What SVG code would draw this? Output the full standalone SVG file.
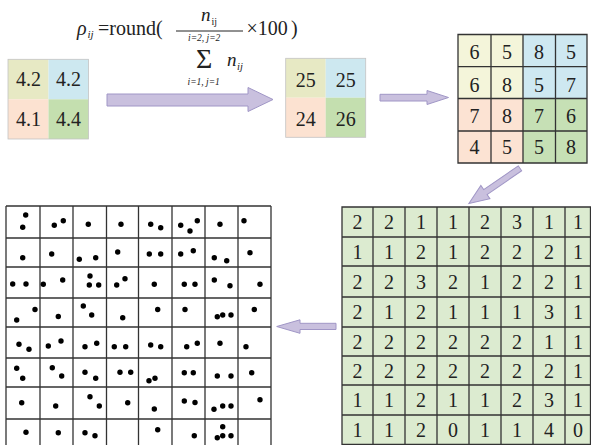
<svg xmlns="http://www.w3.org/2000/svg" width="591" height="445" viewBox="0 0 591 445">
<style>
text{font-family:"Liberation Serif","Times New Roman",serif;fill:#222;}
.n text{font-size:20px;text-anchor:middle;}
.f{font-size:20px;}
.it{font-style:italic;}
.g{stroke:#333;stroke-width:1.3;fill:none;}
.soft{stroke:#c4c4c4;stroke-width:0.8;fill:none;}
.arr{fill:#c9c0de;stroke:#a096c6;stroke-width:1;}
.dot{fill:#000;}
</style>

<g id="formula">
  <text class="f it" x="77" y="35">ρ</text>
  <text class="it" x="87.5" y="38" font-size="11">ij</text>
  <text class="f" x="98" y="35">=round(</text>
  <text class="it" x="201" y="20.5" font-size="19">n</text>
  <text x="211.5" y="25" font-size="10">ij</text>
  <line x1="176" y1="31" x2="243" y2="31" stroke="#222" stroke-width="1"/>
  <text class="it" x="188" y="40.5" font-size="9.5">i=2, j=2</text>
  <text x="196" y="68" font-size="28">Σ</text>
  <text class="it" x="227" y="65.5" font-size="19">n</text>
  <text class="it" x="237" y="70" font-size="10.5">ij</text>
  <text class="it" x="187.5" y="85" font-size="9.5">i=1, j=1</text>
  <text class="f" x="246.5" y="35">×100</text>
  <text class="f" x="291" y="35">)</text>
</g>

<g id="grid-a">
  <rect x="8" y="59.3" width="40.5" height="40" fill="#e7e9c4"/>
  <rect x="48.5" y="59.3" width="40" height="40" fill="#cde8f0"/>
  <rect x="8" y="99.3" width="40.5" height="39.7" fill="#fce2d1"/>
  <rect x="48.5" y="99.3" width="40" height="39.7" fill="#c4dfaf"/>
  <rect class="soft" x="8" y="59.3" width="80.5" height="79.7"/>
  <g class="n">
    <text x="28.5" y="86">4.2</text><text x="68.5" y="86">4.2</text>
    <text x="28.5" y="126">4.1</text><text x="68.5" y="126">4.4</text>
  </g>
</g>

<g id="grid-b">
  <rect x="285.7" y="58.3" width="40" height="39.4" fill="#e7e9c4"/>
  <rect x="325.7" y="58.3" width="40" height="39.4" fill="#cde8f0"/>
  <rect x="285.7" y="97.7" width="40" height="39.6" fill="#fce2d1"/>
  <rect x="325.7" y="97.7" width="40" height="39.6" fill="#c4dfaf"/>
  <rect class="soft" x="285.7" y="58.3" width="80" height="79"/>
  <g class="n">
    <text x="305.7" y="86.5">25</text><text x="345.7" y="86.5">25</text>
    <text x="305.7" y="126">24</text><text x="345.7" y="126">26</text>
  </g>
</g>

<g id="grid-c">
  <rect x="458" y="34.5" width="65" height="64" fill="#f4f5da"/>
  <rect x="523" y="34.5" width="64" height="64" fill="#cee8f1"/>
  <rect x="458" y="98.5" width="65" height="64.5" fill="#fce3d3"/>
  <rect x="523" y="98.5" width="64" height="64.5" fill="#c6e0b5"/>
  <path class="g" d="M458 34.5H587V163H458Z M491 34.5V163 M523 34.5V163 M555.5 34.5V163 M458 66.7H587 M458 98.5H587 M458 131H587"/>
  <g class="n">
    <text x="474.5" y="59.3">6</text><text x="507" y="59.3">5</text><text x="539" y="59.3">8</text><text x="571" y="59.3">5</text>
    <text x="474.5" y="91.5">6</text><text x="507" y="91.5">8</text><text x="539" y="91.5">5</text><text x="571" y="91.5">7</text>
    <text x="474.5" y="123.3">7</text><text x="507" y="123.3">8</text><text x="539" y="123.3">7</text><text x="571" y="123.3">6</text>
    <text x="474.5" y="154">4</text><text x="507" y="154">5</text><text x="539" y="154">5</text><text x="571" y="154">8</text>
  </g>
</g>

<g id="grid-d">
  <rect x="342" y="207" width="248.5" height="237.5" fill="#dcebd0"/>
  <path class="g" d="M342 207H590.5V444.5H342Z M373 207V444.5 M405 207V444.5 M437 207V444.5 M469 207V444.5 M501 207V444.5 M533 207V444.5 M565 207V444.5 M342 237H590.5 M342 266H590.5 M342 297H590.5 M342 327H590.5 M342 356H590.5 M342 385H590.5 M342 415H590.5"/>
  <g class="n">
    <text x="357.5" y="229.3">2</text><text x="389" y="229.3">2</text><text x="421" y="229.3">1</text><text x="453" y="229.3">1</text><text x="485" y="229.3">2</text><text x="517" y="229.3">3</text><text x="549" y="229.3">1</text><text x="578" y="229.3">1</text>
    <text x="357.5" y="259">1</text><text x="389" y="259">1</text><text x="421" y="259">2</text><text x="453" y="259">1</text><text x="485" y="259">2</text><text x="517" y="259">2</text><text x="549" y="259">2</text><text x="578" y="259">1</text>
    <text x="357.5" y="288.5">2</text><text x="389" y="288.5">2</text><text x="421" y="288.5">3</text><text x="453" y="288.5">2</text><text x="485" y="288.5">1</text><text x="517" y="288.5">2</text><text x="549" y="288.5">2</text><text x="578" y="288.5">1</text>
    <text x="357.5" y="319">2</text><text x="389" y="319">1</text><text x="421" y="319">2</text><text x="453" y="319">1</text><text x="485" y="319">1</text><text x="517" y="319">1</text><text x="549" y="319">3</text><text x="578" y="319">1</text>
    <text x="357.5" y="348.5">2</text><text x="389" y="348.5">2</text><text x="421" y="348.5">2</text><text x="453" y="348.5">2</text><text x="485" y="348.5">2</text><text x="517" y="348.5">2</text><text x="549" y="348.5">1</text><text x="578" y="348.5">1</text>
    <text x="357.5" y="378">2</text><text x="389" y="378">2</text><text x="421" y="378">2</text><text x="453" y="378">2</text><text x="485" y="378">2</text><text x="517" y="378">2</text><text x="549" y="378">2</text><text x="578" y="378">1</text>
    <text x="357.5" y="407">1</text><text x="389" y="407">1</text><text x="421" y="407">2</text><text x="453" y="407">1</text><text x="485" y="407">1</text><text x="517" y="407">2</text><text x="549" y="407">3</text><text x="578" y="407">1</text>
    <text x="357.5" y="436.5">1</text><text x="389" y="436.5">1</text><text x="421" y="436.5">2</text><text x="453" y="436.5">0</text><text x="485" y="436.5">1</text><text x="517" y="436.5">1</text><text x="549" y="436.5">4</text><text x="578" y="436.5">0</text>
  </g>
</g>

<g id="grid-e">
  <path class="g" d="M6 206H271 M6 238H271 M6 267H271 M6 298H271 M6 327H271 M6 358H271 M6 387H271 M6 419H271 M6 206V446 M40 206V446 M73 206V446 M106.5 206V446 M138.5 206V446 M172 206V446 M205 206V446 M238 206V446 M271 206V446"/>
  <g class="dot">
    <circle cx="25.7" cy="215" r="2.7"/><circle cx="22.7" cy="227.3" r="2.7"/>
    <circle cx="63.3" cy="220.7" r="2.7"/><circle cx="54.3" cy="225.3" r="2.7"/>
    <circle cx="88.3" cy="224.3" r="2.7"/>
    <circle cx="121" cy="224.3" r="2.7"/>
    <circle cx="150.7" cy="224.3" r="2.7"/><circle cx="160.7" cy="227.7" r="2.7"/>
    <circle cx="180.7" cy="225.3" r="2.7"/><circle cx="190" cy="231" r="2.7"/><circle cx="197.3" cy="220.7" r="2.7"/>
    <circle cx="220" cy="224.3" r="2.7"/>
    <circle cx="244" cy="220.7" r="2.7"/>

    <circle cx="22.7" cy="257.7" r="2.7"/>
    <circle cx="51.7" cy="254" r="2.7"/>
    <circle cx="79.3" cy="259.3" r="2.7"/><circle cx="95.7" cy="257.7" r="2.7"/>
    <circle cx="117.7" cy="252" r="2.7"/>
    <circle cx="149.3" cy="254" r="2.7"/><circle cx="160.7" cy="254" r="2.7"/>
    <circle cx="180.7" cy="254" r="2.7"/><circle cx="193.3" cy="250.7" r="2.7"/>
    <circle cx="214.3" cy="257.7" r="2.7"/><circle cx="226.7" cy="260.7" r="2.7"/>
    <circle cx="250" cy="252.7" r="2.7"/>

    <circle cx="12.7" cy="284" r="2.7"/><circle cx="26" cy="284" r="2.7"/>
    <circle cx="43.3" cy="284.3" r="2.7"/><circle cx="62.7" cy="280" r="2.7"/>
    <circle cx="90" cy="276" r="2.7"/><circle cx="89.3" cy="285" r="2.7"/><circle cx="98.7" cy="285" r="2.7"/>
    <circle cx="116.7" cy="285" r="2.7"/><circle cx="125" cy="278.7" r="2.7"/>
    <circle cx="154.3" cy="284.3" r="2.7"/>
    <circle cx="184.3" cy="284.3" r="2.7"/><circle cx="195" cy="284.3" r="2.7"/>
    <circle cx="214.3" cy="280" r="2.7"/><circle cx="230" cy="285.7" r="2.7"/>
    <circle cx="260" cy="284.3" r="2.7"/>

    <circle cx="35" cy="309.5" r="2.7"/><circle cx="16.7" cy="320" r="2.7"/>
    <circle cx="58.3" cy="316.5" r="2.7"/>
    <circle cx="83.3" cy="306" r="2.7"/><circle cx="91.7" cy="315" r="2.7"/>
    <circle cx="122.7" cy="317.7" r="2.7"/>
    <circle cx="157.7" cy="309.5" r="2.7"/>
    <circle cx="185" cy="309.5" r="2.7"/>
    <circle cx="217.3" cy="316.7" r="2.7"/><circle cx="222.7" cy="315" r="2.7"/><circle cx="231" cy="315" r="2.7"/>
    <circle cx="254.3" cy="309.5" r="2.7"/>

    <circle cx="19" cy="344.3" r="2.7"/><circle cx="29" cy="349.3" r="2.7"/>
    <circle cx="48.3" cy="346" r="2.7"/><circle cx="61" cy="341" r="2.7"/>
    <circle cx="85" cy="346.7" r="2.7"/><circle cx="96.7" cy="343.3" r="2.7"/>
    <circle cx="114.3" cy="346.7" r="2.7"/><circle cx="125.7" cy="346.7" r="2.7"/>
    <circle cx="150.7" cy="345" r="2.7"/><circle cx="160.7" cy="346.7" r="2.7"/>
    <circle cx="186.7" cy="346.7" r="2.7"/><circle cx="197.3" cy="343.3" r="2.7"/>
    <circle cx="220" cy="343.3" r="2.7"/>
    <circle cx="246" cy="346.7" r="2.7"/>

    <circle cx="16.7" cy="368.3" r="2.7"/><circle cx="22.7" cy="378.3" r="2.7"/>
    <circle cx="52.3" cy="367.7" r="2.7"/><circle cx="61.7" cy="376" r="2.7"/>
    <circle cx="85" cy="372.3" r="2.7"/><circle cx="95.7" cy="378.3" r="2.7"/>
    <circle cx="120" cy="372.3" r="2.7"/><circle cx="130.7" cy="372.3" r="2.7"/>
    <circle cx="149" cy="380.7" r="2.7"/><circle cx="155" cy="378.3" r="2.7"/>
    <circle cx="184.3" cy="372.7" r="2.7"/><circle cx="193.3" cy="372.7" r="2.7"/>
    <circle cx="217.3" cy="376" r="2.7"/><circle cx="231" cy="376" r="2.7"/>
    <circle cx="251.7" cy="372.7" r="2.7"/>

    <circle cx="21.7" cy="402.7" r="2.7"/>
    <circle cx="55.7" cy="406" r="2.7"/>
    <circle cx="90" cy="396.7" r="2.7"/><circle cx="99.3" cy="406" r="2.7"/>
    <circle cx="127.7" cy="402.7" r="2.7"/>
    <circle cx="154.3" cy="409" r="2.7"/>
    <circle cx="184.3" cy="401" r="2.7"/><circle cx="195" cy="402.5" r="2.7"/>
    <circle cx="214" cy="409.3" r="2.7"/><circle cx="222.7" cy="406" r="2.7"/><circle cx="231" cy="406" r="2.7"/>
    <circle cx="260" cy="399.7" r="2.7"/>

    <circle cx="26" cy="432.3" r="2.7"/>
    <circle cx="58.3" cy="432.7" r="2.7"/>
    <circle cx="85" cy="432.7" r="2.7"/><circle cx="95" cy="435.7" r="2.7"/>
    <circle cx="157.7" cy="429.7" r="2.7"/>
    <circle cx="194.3" cy="435.7" r="2.7"/>
    <circle cx="222.7" cy="426.7" r="2.7"/><circle cx="217.3" cy="437.7" r="2.7"/><circle cx="222.7" cy="435.7" r="2.7"/><circle cx="231" cy="435.7" r="2.7"/>
  </g>
</g>

<g id="connectors">
  <polygon class="arr" points="107,94 248,94 248,87.5 273,99.5 248,111.5 248,106 107,106"/>
  <polygon class="arr" points="380,94.3 427,94.3 427,90.5 448.5,97.5 427,104.5 427,101 380,101"/>
  <polygon class="arr" transform="translate(520,168.3) rotate(145.5)" points="0,-3 42,-3 42,-8 62,0 42,8 42,3 0,3"/>
  <polygon class="arr" points="336,323.3 300,323.3 300,319.8 276.7,326.5 300,333.3 300,329.5 336,329.5"/>
</g>
</svg>
